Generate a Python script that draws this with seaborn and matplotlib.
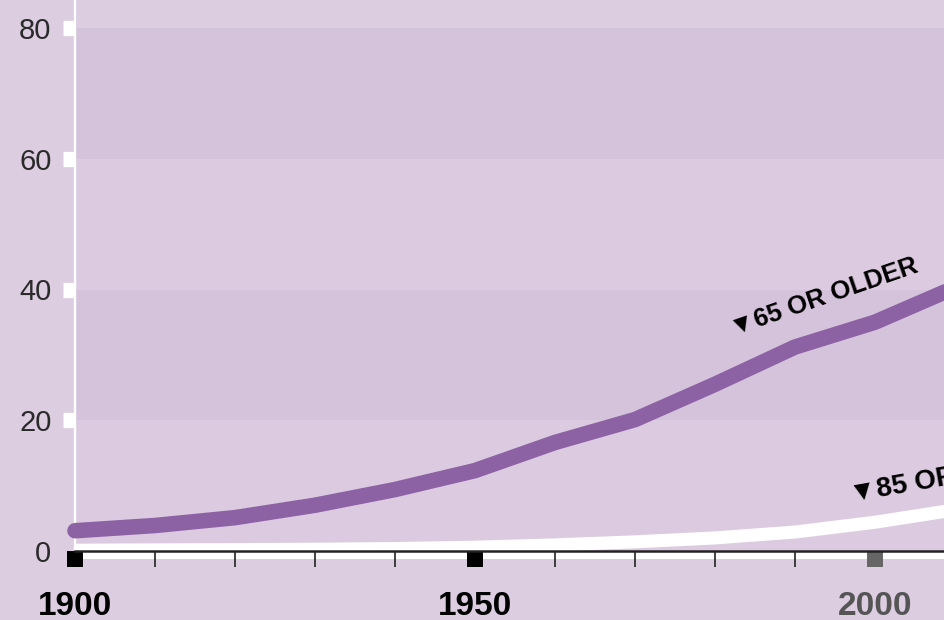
import matplotlib
matplotlib.use("Agg")
import matplotlib.pyplot as plt
from matplotlib.patches import Rectangle
import seaborn as sns
import pandas as pd

# U.S. population by age group, millions
years = [1900, 1910, 1920, 1930, 1940, 1950, 1960, 1970, 1980, 1990, 2000, 2010]
age_65_plus = [3.1, 3.9, 5.1, 7.0, 9.4, 12.3, 16.6, 20.1, 25.5, 31.2, 35.0, 40.3]
age_85_plus = [0.12, 0.17, 0.21, 0.27, 0.37, 0.58, 0.93, 1.4, 2.0, 2.9, 4.4, 6.3]

y_ticks = [0, 20, 40, 60, 80]
x_major = [1900, 1950, 2000]
x_minor = [1910, 1920, 1930, 1940, 1960, 1970, 1980, 1990]
x_labels = ["1900", "1950", "2000"]
label_65 = "\u25BC65 OR OLDER"
label_85 = "\u25BC85 OR OLDER"

BG = "#dccde1"
BAND_DARK = "#d5c3dc"
BAND_LIGHT = "#dccbe0"
PURPLE = "#8d62a5"

sns.set_theme(style="white")
plt.rcParams["font.family"] = ["Liberation Sans", "DejaVu Sans"]

df65 = pd.DataFrame({"year": years, "pop": age_65_plus})
df85 = pd.DataFrame({"year": years, "pop": age_85_plus})

fig = plt.figure(figsize=(9.45, 6.2), dpi=100, facecolor=BG)
ax = fig.add_axes([75 / 945, (620 - 551) / 620, (945 - 75) / 945, (551 - 28) / 620])
ax.set_facecolor(BAND_LIGHT)
ax.set_axisbelow(False)

# alternating horizontal bands
for lo, hi, c in [(0, 20, BAND_LIGHT), (20, 40, BAND_DARK), (40, 60, BAND_LIGHT), (60, 80, BAND_DARK)]:
    ax.axhspan(lo, hi, color=c, lw=0, zorder=0)

sns.lineplot(data=df85, x="year", y="pop", ax=ax, color="white", linewidth=9.4,
             solid_capstyle="round", solid_joinstyle="round", zorder=3)
sns.lineplot(data=df65, x="year", y="pop", ax=ax, color=PURPLE, linewidth=11.2,
             solid_capstyle="round", solid_joinstyle="round", zorder=4)
ax.lines[-1].set_clip_on(False)

ax.set_xlim(1900, 2008.75)
ax.set_ylim(0, 80)
ax.set_xlabel("")
ax.set_ylabel("")

# spines
for s in ["top", "right"]:
    ax.spines[s].set_visible(False)
ax.spines["left"].set_color("white")
ax.spines["left"].set_linewidth(1.6)
ax.spines["bottom"].set_color("#222222")
ax.spines["bottom"].set_linewidth(1.8)
ax.spines["bottom"].set_zorder(6)
ax.axvline(1900, ymin=0, ymax=551 / 523, color="white", lw=1.6, clip_on=False, zorder=2)

# white strip below the baseline
ax.add_patch(Rectangle((0, -8 / 523), 1, 7 / 523, transform=ax.transAxes,
                       facecolor="white", edgecolor="none", clip_on=False, zorder=1.5))

# y axis ticks: short white blocks
ax.set_yticks(y_ticks)
ax.set_yticklabels([str(v) for v in y_ticks])
ax.tick_params(axis="y", which="major", direction="out", length=9, width=11,
               color="white", pad=8, labelsize=21, labelcolor="#2a2a2a", left=True)
ax.yaxis.get_major_ticks()[0].tick1line.set_visible(False)

# x axis ticks: blocks at the half-centuries, thin marks at decades
ax.set_xticks(x_major)
ax.set_xticklabels(x_labels)
ax.set_xticks(x_minor, minor=True)
ax.tick_params(axis="x", which="major", direction="out", length=11.5, width=11.5,
               color="black", pad=17, labelsize=24, bottom=True)
ax.tick_params(axis="x", which="minor", direction="out", length=11.5, width=1.2,
               color="#222222", bottom=True)
for lbl in ax.get_xticklabels():
    lbl.set_fontweight("bold")
    lbl.set_color("black")
ax.get_xticklabels()[2].set_color("#555555")
ax.xaxis.get_major_ticks()[2].tick1line.set_markeredgecolor("#666666")
ax.grid(False)

# series labels
ax.text(1982.2, 33.0, label_65, rotation=19, rotation_mode="anchor", ha="left",
        va="baseline", fontsize=18.5, fontweight="bold", color="black", zorder=7)
ax.text(1997.0, 7.6, label_85, rotation=10, rotation_mode="anchor", ha="left",
        va="baseline", fontsize=20, fontweight="bold", color="black", zorder=7,
        clip_on=False)

fig.savefig("out.png", dpi=100, facecolor=BG)
